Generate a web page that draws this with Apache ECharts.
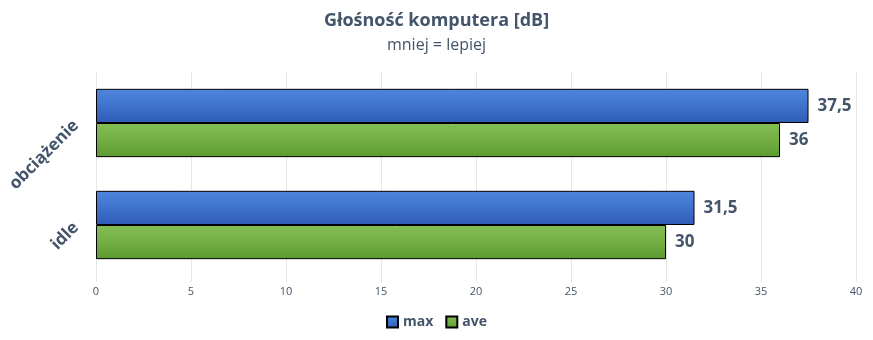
<!DOCTYPE html>
<html><head><meta charset="utf-8">
<script src="https://cdn.jsdelivr.net/npm/echarts@6/dist/echarts.min.js"></script>
<style>html,body{margin:0;padding:0;background:#fff}#c{width:873px;height:340px}</style>
</head><body><div id="c"></div>
<script>
const categories = ['idle', 'obciążenie'];
const seriesNames = ['max', 'ave'];
const maxValues = [31.5, 37.5];
const aveValues = [30, 36];
const xTicks = [0, 5, 10, 15, 20, 25, 30, 35, 40];

const txt = '#44546A';
const font = 'Open Sans';
function grad(c1, c2, c3) {
  return new echarts.graphic.LinearGradient(0, 0, 0, 1, [{offset: 0, color: c1}, {offset: 0.5, color: c2}, {offset: 1, color: c3}]);
}
const fmt = p => String(p.value).replace('.', ',');
const chart = echarts.init(document.getElementById('c'), null, {renderer: 'canvas'});
chart.setOption({
  animation: false,
  textStyle: {fontFamily: font},
  title: {
    text: 'Głośność komputera [dB]', subtext: 'mniej = lepiej',
    left: 'center', top: 7, itemGap: 7,
    textStyle: {color: txt, fontSize: 18, fontWeight: 'bold', fontFamily: font},
    subtextStyle: {color: txt, fontSize: 16, fontFamily: font}
  },
  legend: {
    bottom: 6, left: 'center', itemWidth: 11, itemHeight: 11, itemGap: 12,
    icon: 'rect',
    textStyle: {color: txt, fontSize: 14, fontWeight: 'bold', fontFamily: font},
    data: seriesNames
  },
  grid: {left: 96, right: 17, top: 72, bottom: 64, containLabel: false},
  xAxis: {
    type: 'value', min: xTicks[0], max: xTicks[xTicks.length - 1], interval: 5,
    axisLine: {show: false},
    axisTick: {show: true, length: 6, lineStyle: {color: '#e6e6e6'}},
    splitLine: {lineStyle: {color: '#e6e6e6'}},
    axisLabel: {color: txt, fontSize: 11, margin: 10, fontFamily: font}
  },
  yAxis: {
    type: 'category', data: categories,
    axisLine: {show: false}, axisTick: {show: false},
    axisLabel: {color: txt, fontSize: 17, fontWeight: 'bold', rotate: 45, margin: 20, fontFamily: font}
  },
  series: [
    {name: 'max', type: 'bar', data: maxValues, barGap: '0%', barCategoryGap: '33%',
     itemStyle: {color: grad('#4f86dc', '#3f72cc', '#2e5bb5'), borderColor: '#000', borderWidth: 1},
     label: {show: true, position: 'right', distance: 9, formatter: fmt, color: txt, fontSize: 17, fontWeight: 'bold', fontFamily: font}},
    {name: 'ave', type: 'bar', data: aveValues,
     itemStyle: {color: grad('#84bf55', '#72ae42', '#5c9a30'), borderColor: '#000', borderWidth: 1},
     label: {show: true, position: 'right', distance: 9, formatter: fmt, color: txt, fontSize: 17, fontWeight: 'bold', fontFamily: font}}
  ]
});
</script></body></html>
